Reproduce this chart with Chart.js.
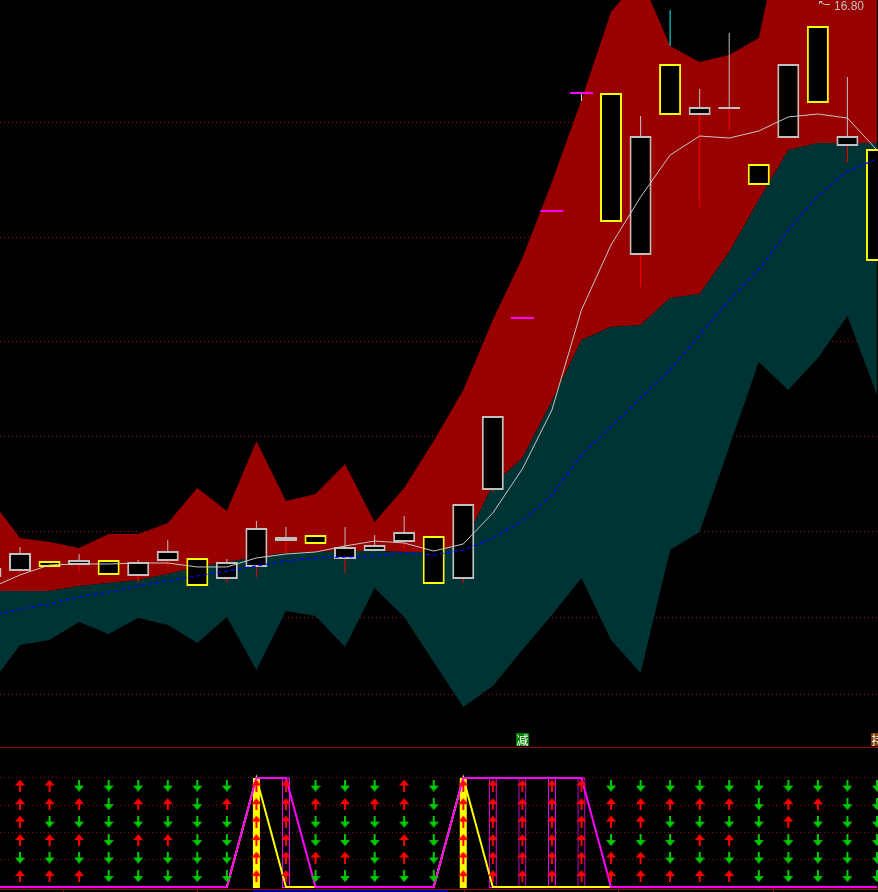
<!DOCTYPE html>
<html>
<head>
<meta charset="utf-8">
<title>K线</title>
<script src="https://cdn.jsdelivr.net/npm/chart.js@4.4.0/dist/chart.umd.min.js"></script>
<style>
  html, body { margin:0; padding:0; background:#000; overflow:hidden; }
  #wrap { position:relative; width:878px; height:892px; background:#000; }
  #main { position:absolute; left:0; top:0; }
  #sep { position:absolute; left:0; top:747px; width:878px; height:1px; background:#990000; }
  #sub { position:absolute; left:0; top:748px; }
</style>
</head>
<body>
<div id="wrap">
  <canvas id="main" width="878" height="747"></canvas>
  <div id="sep"></div>
  <canvas id="sub" width="878" height="144"></canvas>
</div>
<script>
// bar index, -1 is the half candle cut off on the left
const idx = [-1,0,1,2,3,4,5,6,7,8,9,10,11,12,13,14,15,16,17,18,19,20,21,22,23,24,25,26,27,28,29];

const open  = [9.815,9.887,10.008,9.960,10.020,9.827,10.008,10.045,9.790,9.936,10.250,10.323,10.033,10.129,10.238,10.311,9.790,10.868,12.950,14.246,15.674,15.674,13.713,16.025,15.408,15.480,14.815,15.129,16.485,15.032,14.996];
const close = [9.924,10.105,9.936,10.020,9.839,9.996,10.129,9.706,9.996,10.408,10.299,10.214,10.178,10.202,10.359,9.730,10.698,11.764,12.950,14.246,15.674,14.112,15.153,15.408,15.505,15.505,14.560,16.025,15.553,15.153,13.640];
const high  = [9.924,10.178,10.008,10.093,10.020,10.020,10.262,10.045,10.033,10.492,10.420,10.323,10.420,10.323,10.553,10.311,10.698,11.764,12.950,14.246,15.674,15.674,15.396,16.025,15.723,16.400,14.815,16.025,16.485,15.868,14.996];
const low   = [9.815,9.863,9.936,9.875,9.839,9.754,9.948,9.706,9.742,9.815,10.105,10.214,9.863,10.129,10.166,9.730,9.742,10.844,12.950,14.246,15.577,14.112,13.325,15.408,14.294,15.226,14.560,15.117,15.553,14.839,13.640];

// cyan stroke above bar 22
const cyanIdx = 22;
const cyanRange = [16.243, 16.679];

// moving averages
const maFast = [9.681,9.839,9.960,9.972,9.972,9.984,9.984,9.936,9.936,10.045,10.093,10.117,10.190,10.250,10.226,10.129,10.214,10.589,11.122,11.836,13.047,13.834,14.415,14.923,15.153,15.129,15.214,15.384,15.420,15.371,14.984];
const maSlow = [9.342,9.427,9.488,9.573,9.633,9.706,9.766,9.827,9.887,9.948,10.008,10.045,10.057,10.069,10.105,10.081,10.141,10.287,10.492,10.807,11.292,11.631,11.982,12.321,12.744,13.168,13.531,14.015,14.427,14.730,14.875];

// channel: red between upper and mid, dark teal between mid and lower
const bandUpper = [10.759,10.287,10.238,10.166,10.335,10.335,10.468,10.892,10.614,11.461,10.735,10.819,11.183,10.480,10.892,11.461,12.078,12.926,13.677,14.597,15.589,16.655,17.078,16.243,16.049,16.134,16.340,18.011,17.890,17.769,17.526];
const bandMid   = [9.645,9.645,9.645,9.706,9.742,9.778,9.851,9.936,9.996,10.057,10.105,10.117,10.129,10.129,10.117,10.117,10.202,10.928,11.255,11.945,12.684,12.841,12.865,13.192,13.241,13.749,14.379,14.984,15.069,15.069,15.069];
const bandLower = [8.507,8.991,9.052,9.270,9.125,9.318,9.233,9.016,9.330,8.689,9.403,9.342,8.967,9.681,9.330,8.785,8.241,8.495,8.931,9.355,9.802,9.052,8.652,10.141,10.359,11.388,12.417,12.078,12.466,12.974,12.018];

// dotted price lines
const priceGrid = [15.32, 13.93, 12.66, 11.51, 10.36, 9.32, 8.39];

// max price tag
const highTag = 16.80;
const highTagIdx = 27;

// signal words at the bottom of the main panel
const signalIdx = [17, 29];
const signalText = ['减', '持'];
const signalColor = ['#008000', '#804000'];

// lower panel: 6 rows of arrows per bar (U = red up, D = green down), top row first
const arrowCols = ['UUUUDU','UUDUDU','DUDUDU','DDDDDD','DUDUDD','DUDUDD','DDDDDD','DUDDDD','UUUUUU','UUUUUU',
                   'DUDDUD','DUDDUD','DUDDDD','UUDUUD','DDDDDD','UUUUUU','UUUUUU','UUUUUU','UUUUUU','UUUUUU',
                   'DUUDUU','DUUDUU','DUDDDU','DUDUDU','DUDUDU','DDDDDD','DUUDDD','DUDDDD','DDDDDD','DDDDDD'];
const rowLevel = [0.93, 0.76, 0.6, 0.43, 0.27, 0.1];
const stateLine = [0,0,0,0,0,0,0,0,0,1,1,0,0,0,0,0,1,1,1,1,1,0,0,0,0,0,0,0,0,0,0];   // magenta, idx -1..29
const triggerLine = [0,0,0,0,0,0,0,0,0,1,0,0,0,0,0,0,1,0,0,0,0,0,0,0,0,0,0,0,0,0,0]; // yellow, idx -1..29
const triggerBars = [8, 15];
const holdBoxes = [9, 16, 17, 18, 19];
const subGrid = [1, 0.75, 0.5, 0.25];
const dateTicks = [1.45, 6, 15.03, 20.24, 25.48];
const scrollRange = [7.88, 14.48];

const X_MIN = -0.677, X_MAX = 29.035;

const pts = arr => idx.map((x, i) => ({x: x, y: arr[i]}));

// split the candles into bodies and wicks
let upBody = [], downBody = [], flatBody = [], upWick = [], lowWick = [], flatWick = [];
idx.forEach((x, i) => {
	let o = open[i], c = close[i], h = high[i], l = low[i];
	let top = Math.max(o, c), bot = Math.min(o, c);
	if (c > o) upBody.push({x: x, y: [bot, top]});
	else if (c < o) downBody.push({x: x, y: [bot, top]});
	else flatBody.push({x: x, y: [o - 0.012, o + 0.012]});
	if (h > top) upWick.push({x: x, y: [top, h]});
	if (l < bot) {
		if (c == o) flatWick.push({x: x, y: [l, bot]});
		else lowWick.push({x: x, y: [l, bot]});
	}
});

const barBase = {type: 'bar', grouped: false, borderSkipped: false, inflateAmount: 0};

const mainLabels = {
	id: 'mainLabels',
	afterDatasetsDraw(chart) {
		const ctx = chart.ctx, xs = chart.scales.x, ys = chart.scales.y;
		ctx.save();
		// arrow + value of the highest price
		let px = Math.round(xs.getPixelForValue(highTagIdx)), py = Math.round(ys.getPixelForValue(highTag));
		ctx.strokeStyle = '#c0c0c0';
		ctx.lineWidth = 1;
		ctx.beginPath();
		ctx.moveTo(px + 1.5, py + 1.5); ctx.lineTo(px + 6.5, py + 4.5); ctx.lineTo(px + 12, py + 4.5);
		ctx.moveTo(px + 1.5, py + 1.5); ctx.lineTo(px + 4.5, py + 1.5);
		ctx.moveTo(px + 1.5, py + 1.5); ctx.lineTo(px + 1.5, py + 4);
		ctx.stroke();
		ctx.fillStyle = '#c0c0c0';
		ctx.font = '12px "Liberation Sans", Arial, sans-serif';
		ctx.textBaseline = 'alphabetic';
		ctx.textAlign = 'left';
		ctx.fillText(highTag.toFixed(2), px + 16, py + 10);

		// signal words
		let bottom = chart.chartArea.bottom;
		ctx.font = '12px "Noto Sans CJK SC", sans-serif';
		ctx.textAlign = 'center';
		ctx.textBaseline = 'middle';
		signalIdx.forEach((v, k) => {
			let cx = Math.round(xs.getPixelForValue(v));
			ctx.fillStyle = signalColor[k];
			ctx.fillRect(cx - 6, bottom - 14, 13, 13);
			ctx.fillStyle = '#ffffff';
			ctx.fillText(signalText[k], cx + 0.5, bottom - 7);
		});
		ctx.restore();
	}
};

const mainChart = new Chart(document.getElementById('main').getContext('2d'), {
	type: 'line',
	data: {
		datasets: [
			{data: pts(bandUpper), fill: '+1', backgroundColor: '#990000', borderColor: 'rgba(0,0,0,0)', borderWidth: 0, pointRadius: 0, order: 20},
			{data: pts(bandMid), fill: '+1', backgroundColor: '#003333', borderColor: 'rgba(0,0,0,0)', borderWidth: 0, pointRadius: 0, order: 19},
			{data: pts(bandLower), fill: false, borderColor: 'rgba(0,0,0,0)', borderWidth: 0, pointRadius: 0, order: 18},
			Object.assign({data: upWick, backgroundColor: '#c0c0c0', barThickness: 1, borderWidth: 0, order: 12}, barBase),
			Object.assign({data: lowWick, backgroundColor: '#ff0000', barThickness: 1, borderWidth: 0, order: 12}, barBase),
			Object.assign({data: flatWick, backgroundColor: '#e0e0e0', barThickness: 1, borderWidth: 0, order: 12}, barBase),
			Object.assign({data: [{x: cyanIdx, y: cyanRange}], backgroundColor: '#00ffff', barThickness: 1, borderWidth: 0, order: 12}, barBase),
			Object.assign({data: upBody, backgroundColor: '#000000', borderColor: '#c0c0c0', borderWidth: 2, barThickness: 22, order: 10}, barBase),
			Object.assign({data: downBody, backgroundColor: '#000000', borderColor: '#ffff00', borderWidth: 2, barThickness: 22, order: 10}, barBase),
			Object.assign({data: flatBody, backgroundColor: '#ff00ff', borderWidth: 0, barThickness: 23, order: 10}, barBase),
			{data: pts(maFast), borderColor: '#c8c8c8', borderWidth: 1, pointRadius: 0, fill: false, order: 2},
			{data: pts(maSlow), borderColor: '#0000ff', borderWidth: 1.2, borderDash: [4, 3], pointRadius: 0, fill: false, order: 1}
		]
	},
	options: {
		responsive: false,
		animation: false,
		events: [],
		layout: {padding: 0, autoPadding: false},
		elements: {line: {tension: 0}},
		plugins: {legend: {display: false}, tooltip: {enabled: false}},
		scales: {
			x: {type: 'linear', min: X_MIN, max: X_MAX, display: false, offset: false},
			y: {
				type: 'linear', min: 7.7564, max: 16.8, offset: false,
				afterBuildTicks: s => { s.ticks = priceGrid.map(v => ({value: v})); },
				ticks: {display: false},
				grid: {color: '#b00000', lineWidth: 1, drawTicks: false},
				border: {display: false, dash: [1, 3]}
			}
		}
	},
	plugins: [mainLabels]
});

// arrow images for the lower panel
function makeArrow(color, up) {
	let c = document.createElement('canvas');
	c.width = 10; c.height = 12;
	let g = c.getContext('2d');
	g.fillStyle = color;
	g.beginPath();
	if (up) { g.moveTo(5, 0); g.lineTo(10, 6); g.lineTo(0, 6); }
	else { g.moveTo(0, 6); g.lineTo(10, 6); g.lineTo(5, 12); }
	g.closePath();
	g.fill();
	g.fillRect(4, up ? 6 : 0, 2, 6);
	return c;
}
const upArrow = makeArrow('#ff0000', true);
const downArrow = makeArrow('#00cc00', false);

let upPts = [], downPts = [];
arrowCols.forEach((col, i) => {
	col.split('').forEach((s, r) => {
		if (s == 'U') upPts.push({x: i, y: rowLevel[r]});
		else downPts.push({x: i, y: rowLevel[r]});
	});
});

const subFrame = {
	id: 'subFrame',
	afterDraw(chart) {
		const ctx = chart.ctx, xs = chart.scales.x;
		let h = chart.height;
		ctx.save();
		ctx.fillStyle = '#0000a0';
		let a = xs.getPixelForValue(scrollRange[0]), b = xs.getPixelForValue(scrollRange[1]);
		ctx.fillRect(Math.round(a), h - 3, Math.round(b - a), 3);
		ctx.fillStyle = '#990000';
		ctx.fillRect(0, h - 3, chart.width, 1);
		dateTicks.forEach(v => {
			ctx.fillRect(Math.round(xs.getPixelForValue(v)), h - 3, 1, 3);
		});
		ctx.restore();
	}
};

const subChart = new Chart(document.getElementById('sub').getContext('2d'), {
	type: 'line',
	data: {
		datasets: [
			Object.assign({data: triggerBars.map(v => ({x: v, y: [-0.01, 1]})), backgroundColor: '#ffff00', borderWidth: 0, barThickness: 7, order: 10}, barBase),
			Object.assign({data: holdBoxes.map(v => ({x: v, y: [-0.01, 1]})), backgroundColor: 'rgba(0,0,0,0)', borderColor: '#ff00ff', borderWidth: 1, barThickness: 8, order: 9}, barBase),
			{data: pts(triggerLine), borderColor: '#ffff00', borderWidth: 2, pointRadius: 0, fill: false, order: 6},
			{data: pts(stateLine), borderColor: '#ff00ff', borderWidth: 2, pointRadius: 0, fill: false, order: 5},
			{type: 'scatter', data: upPts, pointStyle: upArrow, pointRadius: 5, showLine: false, order: 1},
			{type: 'scatter', data: downPts, pointStyle: downArrow, pointRadius: 5, showLine: false, order: 1}
		]
	},
	options: {
		responsive: false,
		animation: false,
		events: [],
		layout: {padding: 0, autoPadding: false},
		elements: {line: {tension: 0}},
		plugins: {legend: {display: false}, tooltip: {enabled: false}},
		scales: {
			x: {type: 'linear', min: X_MIN, max: X_MAX, display: false, offset: false},
			y: {
				type: 'linear', min: -0.046, max: 1.275, offset: false,
				afterBuildTicks: s => { s.ticks = subGrid.map(v => ({value: v})); },
				ticks: {display: false},
				grid: {color: '#a00000', lineWidth: 1, drawTicks: false},
				border: {display: false, dash: [1, 3]}
			}
		}
	},
	plugins: [subFrame]
});
</script>
</body>
</html>
